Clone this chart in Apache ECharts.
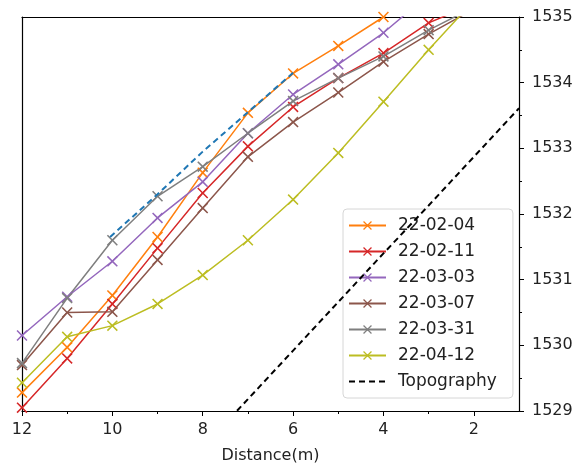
<!DOCTYPE html>
<html>

<head>
    <meta charset="UTF-8" />
    <script src="https://cdn.jsdelivr.net/npm/echarts@6/dist/echarts.min.js"></script>
</head>

<body style="margin: 0; overflow: hidden; background: #fff;">
    <div id="chart" style="width: 577px; height: 469px"></div>
    <script type="text/javascript">

        // distance (m) of each survey point
        const distance = [12, 11, 10, 9, 8, 7, 6, 5, 4, 3, 2];

        // water level per survey date
        const d220204 = [1529.28, 1529.97, 1530.76, 1531.65, 1532.63, 1533.54, 1534.14, 1534.56, 1535.0, 1535.42, 1535.8];
        const d220211 = [1529.05, 1529.8, 1530.63, 1531.48, 1532.32, 1533.03, 1533.63, 1534.07, 1534.45, 1534.91, 1535.2];
        const d220303 = [1530.15, 1530.74, 1531.28, 1531.94, 1532.49, 1533.23, 1533.82, 1534.28, 1534.76, 1535.34, 1535.8];
        const d220307 = [1529.7, 1530.5, 1530.51, 1531.3, 1532.09, 1532.87, 1533.4, 1533.85, 1534.32, 1534.74, 1535.12];
        const d220331 = [1529.73, 1530.72, 1531.6, 1532.27, 1532.72, 1533.23, 1533.72, 1534.07, 1534.4, 1534.8, 1535.15];
        const d220412 = [1529.43, 1530.13, 1530.3, 1530.63, 1531.07, 1531.6, 1532.22, 1532.93, 1533.71, 1534.5, 1535.25];

        // blue dashed guide line (no legend entry)
        const guideX = [10.05, 9, 8, 7, 6];
        const guideY = [1531.65, 1532.3, 1532.95, 1533.55, 1534.15];

        // ground surface
        const topoX = [8, 7, 6, 5, 4, 3, 2, 1];
        const topoY = [1528.45, 1529.18, 1529.92, 1530.66, 1531.4, 1532.13, 1532.87, 1533.61];

        const xMajor = [2, 4, 6, 8, 10, 12];
        const xMinor = [3, 5, 7, 9, 11];

        const fontFamily = 'DejaVu Sans';
        const xMark = 'path://M0,1L1,0L5,4L9,0L10,1L6,5L10,9L9,10L5,6L1,10L0,9L4,5Z';

        function pairs(xs, ys) {
            return xs.map((x, i) => [x, ys[i]]);
        }

        function dateSeries(name, ys, color) {
            return {
                name: name,
                type: 'line',
                data: pairs(distance, ys),
                symbol: xMark,
                symbolSize: 11,
                showAllSymbol: true,
                lineStyle: { color: color, width: 1.5 },
                itemStyle: { color: color },
                emphasis: { disabled: true },
                clip: true,
                z: 3
            };
        }

        const myChart = echarts.init(document.getElementById('chart'));

        const option = {
            animation: false,
            grid: { left: 22, right: 58, top: 17, bottom: 58 },
            legend: {
                data: ['22-02-04', '22-02-11', '22-03-03', '22-03-07', '22-03-31', '22-04-12', 'Topography'],
                orient: 'vertical',
                left: 343,
                top: 209,
                itemWidth: 37,
                itemHeight: 11,
                itemGap: 9,
                padding: [8, 16, 8, 5],
                borderColor: '#d6d6d6',
                borderWidth: 1,
                borderRadius: 4,
                backgroundColor: 'rgba(255,255,255,0.8)',
                textStyle: { fontFamily: fontFamily, fontSize: 17, color: '#222', padding: [0, 0, 0, 7] }
            },
            xAxis: [
                {
                    type: 'value',
                    inverse: true,
                    min: 1,
                    max: 12,
                    name: 'Distance(m)',
                    nameLocation: 'middle',
                    nameGap: 37,
                    nameTextStyle: { fontFamily: fontFamily, fontSize: 16, color: '#222' },
                    axisLine: { onZero: false, lineStyle: { color: '#000', width: 1.2 } },
                    axisTick: { show: true, length: 5, customValues: xMajor, lineStyle: { color: '#000' } },
                    axisLabel: { customValues: xMajor, margin: 11, fontFamily: fontFamily, fontSize: 16, color: '#222' },
                    splitLine: { show: false }
                },
                {
                    type: 'value',
                    inverse: true,
                    min: 1,
                    max: 12,
                    position: 'bottom',
                    axisLine: { show: false },
                    axisTick: { show: true, length: 3, customValues: xMinor, lineStyle: { color: '#000' } },
                    axisLabel: { show: false },
                    splitLine: { show: false }
                },
                {
                    type: 'value',
                    inverse: true,
                    min: 1,
                    max: 12,
                    position: 'top',
                    axisLine: { show: true, lineStyle: { color: '#000', width: 1.2 } },
                    axisTick: { show: false },
                    axisLabel: { show: false },
                    splitLine: { show: false }
                }
            ],
            yAxis: [
                {
                    type: 'value',
                    position: 'right',
                    min: 1529,
                    max: 1535,
                    interval: 1,
                    axisLine: { show: true, onZero: false, lineStyle: { color: '#000', width: 1.2 } },
                    axisTick: { show: true, length: 5, lineStyle: { color: '#000' } },
                    minorTick: { show: true, splitNumber: 2, length: 3, lineStyle: { color: '#000' } },
                    axisLabel: {
                        margin: 13, fontFamily: fontFamily, fontSize: 16, color: '#222',
                        formatter: v => String(v)
                    },
                    splitLine: { show: false }
                },
                {
                    type: 'value',
                    position: 'left',
                    min: 1529,
                    max: 1535,
                    axisLine: { show: true, onZero: false, lineStyle: { color: '#000', width: 1.2 } },
                    axisTick: { show: false },
                    axisLabel: { show: false },
                    splitLine: { show: false }
                }
            ],
            series: [
                dateSeries('22-02-04', d220204, '#ff7f0e'),
                dateSeries('22-02-11', d220211, '#d62728'),
                dateSeries('22-03-03', d220303, '#9467bd'),
                dateSeries('22-03-07', d220307, '#8c564b'),
                dateSeries('22-03-31', d220331, '#7f7f7f'),
                dateSeries('22-04-12', d220412, '#bcbd22'),
                {
                    name: 'guide',
                    type: 'line',
                    data: pairs(guideX, guideY),
                    symbol: 'none',
                    lineStyle: { color: '#1f77b4', width: 2, type: [6, 4] },
                    itemStyle: { color: '#1f77b4' },
                    emphasis: { disabled: true },
                    z: 4
                },
                {
                    name: 'Topography',
                    type: 'line',
                    data: pairs(topoX, topoY),
                    symbol: 'circle',
                    showSymbol: false,
                    lineStyle: { color: '#000', width: 2, type: [6, 4] },
                    itemStyle: { color: 'rgba(0,0,0,0)' },
                    emphasis: { disabled: true },
                    clip: true,
                    z: 4
                }
            ]
        };

        myChart.setOption(option);

    </script>
</body>

</html>
